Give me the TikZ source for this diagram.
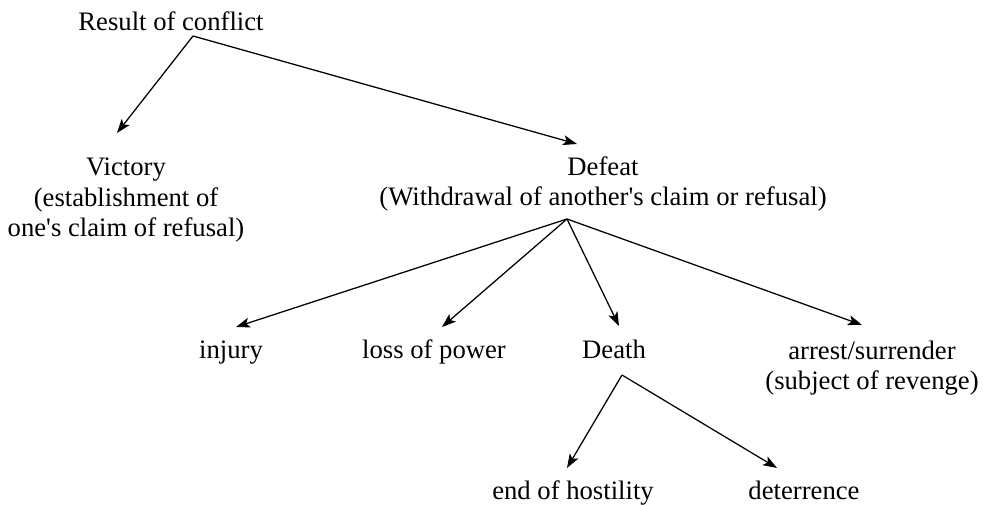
\documentclass[tikz,border=0pt]{standalone}
\usepackage{fontspec}
\setmainfont{Liberation Serif}
\usetikzlibrary{arrows.meta}
\tikzset{
  lbl/.style={anchor=base, inner sep=0pt, align=center, font=\fontsize{20}{23}\selectfont},
  arr/.style={-{Stealth[length=10.5pt,width=7.5pt,inset=2.5pt]}, line width=0.95pt, black}
}
\begin{document}
\begin{tikzpicture}[x=0.75pt,y=-0.75pt]
\useasboundingbox (0,0) rectangle (983,505);
\node[lbl] (res) at (171,31) {Result of conflict};
\node[lbl] (vic) at (126,237) {Victory\\(establishment of\\one\textquotesingle s claim of refusal)};
\node[lbl] (def) at (603,206) {Defeat\\(Withdrawal of another\textquotesingle s claim or refusal)};
\node[lbl] (inj) at (231,359) {injury};
\node[lbl] (loss) at (434,359) {loss of power};
\node[lbl] (death) at (614,359) {Death};
\node[lbl] (arr) at (872,390) {arrest/surrender\\(subject of revenge)};
\node[lbl] (end) at (573,500) {end of hostility};
\node[lbl] (det) at (804,500) {deterrence};
\draw[arr] ([shift={(22,5)}]res.base) -- ([shift={(-9,-104)}]vic.base);
\draw[arr] ([shift={(22,5)}]res.base) -- ([shift={(-26,-62)}]def.base);
\draw[arr] ([shift={(-36,13)}]def.base) -- ([shift={(5,-32)}]inj.base);
\draw[arr] ([shift={(-36,13)}]def.base) -- ([shift={(8,-32)}]loss.base);
\draw[arr] ([shift={(-36,13)}]def.base) -- ([shift={(5,-33)}]death.base);
\draw[arr] ([shift={(-36,13)}]def.base) -- ([shift={(-10,-65)}]arr.base);
\draw[arr] ([shift={(8,16)}]death.base) -- ([shift={(-6,-32)}]end.base);
\draw[arr] ([shift={(8,16)}]death.base) -- ([shift={(-27,-32)}]det.base);
\end{tikzpicture}
\end{document}
